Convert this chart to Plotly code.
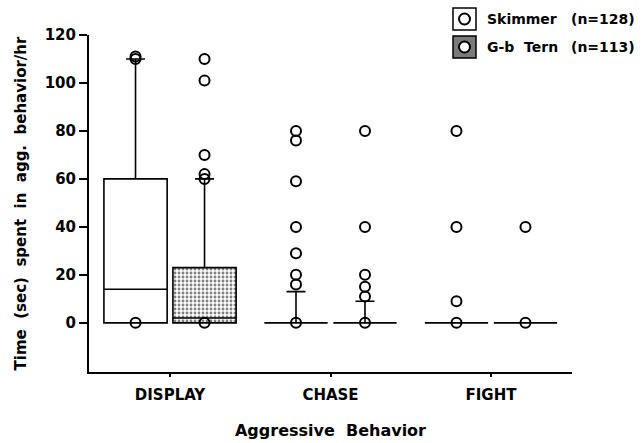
import numpy as np
import plotly.graph_objects as go

# ---------------- data ----------------
categories = ["DISPLAY", "CHASE", "FIGHT"]
series_names = ["Skimmer", "G-b Tern"]
series_n = [128, 113]

skimmer_q1 = [0, 0, 0]
skimmer_median = [14, 0, 0]
skimmer_q3 = [60, 0, 0]
skimmer_lowerfence = [0, 0, 0]
skimmer_upperfence = [110, 13, 0]
skimmer_points = [[0, 110, 111], [0, 16, 20, 29, 40, 59, 76, 80], [0, 9, 40, 80]]

tern_q1 = [0, 0, 0]
tern_median = [2, 0, 0]
tern_q3 = [23, 0, 0]
tern_lowerfence = [0, 0, 0]
tern_upperfence = [60, 9, 0]
tern_points = [[0, 60, 62, 70, 101, 110], [0, 11, 15, 20, 40, 80], [0, 40]]

y_ticks = [0, 20, 40, 60, 80, 100, 120]

# ---------------- layout constants ----------------
W, H = 642, 443
ML, MR, MT, MB = 89, 70, 35, 71
offset = 0.215
box_w = 0.394
FONT = "DejaVu Sans"

pos = np.arange(len(categories))
x_sk = pos - offset
x_tn = pos + offset

fig = go.Figure()

# stipple fill for tern boxes
fig.add_trace(go.Bar(
    x=x_tn, base=tern_q1, y=np.array(tern_q3) - np.array(tern_q1), width=box_w,
    marker=dict(color="white", line=dict(width=0),
                pattern=dict(shape=".", fgcolor="black", bgcolor="white", size=4, solidity=0.4)),
    showlegend=False, hoverinfo="skip"))

box_style = dict(orientation="v", width=box_w, whiskerwidth=0.3, boxpoints=False,
                 line=dict(color="black", width=1.6), showlegend=False)

fig.add_trace(go.Box(x=x_sk, q1=skimmer_q1, median=skimmer_median, q3=skimmer_q3,
                     lowerfence=skimmer_lowerfence, upperfence=skimmer_upperfence,
                     fillcolor="rgba(255,255,255,0)", name=series_names[0], **box_style))
fig.add_trace(go.Box(x=x_tn, q1=tern_q1, median=tern_median, q3=tern_q3,
                     lowerfence=tern_lowerfence, upperfence=tern_upperfence,
                     fillcolor="rgba(255,255,255,0)", name=series_names[1], **box_style))

for xs, pts in ((x_sk, skimmer_points), (x_tn, tern_points)):
    px_, py_ = [], []
    for xv, lst in zip(xs, pts):
        px_ += [xv] * len(lst)
        py_ += lst
    fig.add_trace(go.Scatter(x=px_, y=py_, mode="markers",
                             marker=dict(symbol="circle-open", size=10, color="black",
                                         line=dict(width=2, color="black")),
                             showlegend=False))

# ---------------- legend (drawn) ----------------
pw, ph = W - ML - MR, H - MT - MB
def pxx(v): return (v - ML) / pw
def pxy(v): return (H - MB - v) / ph

shapes = []
annotations = []
rows = [(8, 30, "white"), (36, 58, "#7a7a7a")]
for i, (y0, y1, fc) in enumerate(rows):
    shapes.append(dict(type="rect", xref="paper", yref="paper",
                       x0=pxx(453), x1=pxx(476), y0=pxy(y1), y1=pxy(y0),
                       line=dict(color="black", width=1.5), fillcolor=fc))
    cy = (y0 + y1) / 2
    shapes.append(dict(type="circle", xref="paper", yref="paper",
                       x0=pxx(459), x1=pxx(470), y0=pxy(cy + 5.5), y1=pxy(cy - 5.5),
                       line=dict(color="black", width=2), fillcolor="white"))
    annotations.append(dict(xref="paper", yref="paper", x=pxx(485), y=pxy(cy),
                            xanchor="left", yanchor="middle", showarrow=False,
                            text=series_names[i].replace(" ", "\u00a0\u00a0"),
                            font=dict(family=FONT, size=14, color="black", weight="bold")))
    annotations.append(dict(xref="paper", yref="paper", x=pxx(569), y=pxy(cy),
                            xanchor="left", yanchor="middle", showarrow=False,
                            text=f"(n={series_n[i]})",
                            font=dict(family=FONT, size=14, color="black", weight="bold")))

fig.update_layout(
    width=W, height=H, margin=dict(l=ML, r=MR, t=MT, b=MB),
    paper_bgcolor="white", plot_bgcolor="white",
    font=dict(family=FONT, size=14, color="black", weight="bold"),
    barmode="overlay", boxmode="overlay",
    shapes=shapes, annotations=annotations,
)
fig.update_xaxes(range=[-0.505, 2.505], tickmode="array", tickvals=pos, ticktext=categories,
                 showline=True, linecolor="black", linewidth=2, ticks="outside", ticklen=3,
                 tickwidth=1.5, tickcolor="black", showgrid=False, zeroline=False,
                 ticklabelstandoff=5, automargin=False,
                 tickfont=dict(family=FONT, size=15, weight="bold"),
                 title=dict(text="Aggressive\u00a0\u00a0Behavior", standoff=22,
                            font=dict(family=FONT, size=16, weight="bold")))
fig.update_yaxes(range=[-20.5, 120], tickmode="array", tickvals=y_ticks,
                 showline=True, linecolor="black", linewidth=2, ticks="outside", ticklen=8,
                 tickwidth=2, tickcolor="black", showgrid=False, zeroline=False,
                 automargin=False,
                 tickfont=dict(family=FONT, size=15, weight="bold"),
                 title=dict(text="Time\u00a0\u00a0(sec)\u00a0\u00a0spent\u00a0\u00a0in\u00a0\u00a0agg.\u00a0\u00a0behavior/hr",
                            standoff=14, font=dict(family=FONT, size=15, weight="bold")))

fig.write_html("out.html")
